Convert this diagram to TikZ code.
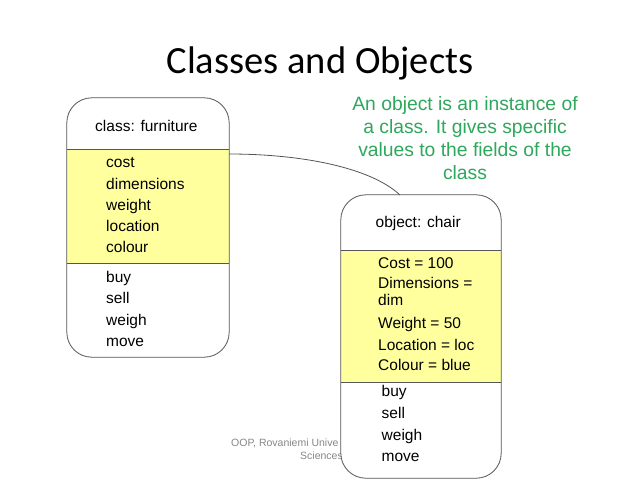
\documentclass[tikz,border=0pt]{standalone}
\usepackage{fontspec}
\setmainfont{Liberation Sans}
\newfontfamily\titlefont{Carlito}
\definecolor{boxline}{RGB}{85,85,85}
\definecolor{attrfill}{RGB}{255,255,158}
\definecolor{notegreen}{RGB}{46,168,92}
\definecolor{footgray}{RGB}{135,135,135}
\tikzset{
  boxshape/.style={rectangle, rounded corners=25pt, fill=white, inner sep=0pt},
  boxedge/.style={draw=boxline, line width=0.8pt},
  item/.style={anchor=base west, inner sep=0pt, font=\fontsize{15.5}{18}\selectfont},
  foottext/.style={inner sep=0pt, text=footgray, font=\fontsize{10.5}{12.3}\selectfont},
  link/.style={draw=boxline, line width=0.8pt},
}
\begin{document}
\begin{tikzpicture}[x=1pt,y=-1pt]
\useasboundingbox (0,0) rectangle (640,480);
\fill[white] (0,0) rectangle (640,480);

% title
\node[anchor=base, inner sep=0pt, font=\titlefont\fontsize{38.5}{44}\selectfont] (title) at (320,73) {Classes and Objects};

% note
\node[anchor=base, inner sep=0pt, align=center, text=notegreen,
      font=\fontsize{19.3}{23}\selectfont] (note) at (465,179)
  {An object is an instance of\\a class. It gives specific\\values to the fields of the\\class};

% footer (partly hidden by the object box)
\node[foottext, anchor=base west] (foot1) at (231,446.5) {OOP, Rovaniemi Unive};
\node[foottext, anchor=base east] (foot2) at (343,459) {Sciences};

% boxes (fills)
\node[boxshape, minimum width=162pt, minimum height=259pt] (cls) at (148,227.5) {};
\node[boxshape, minimum width=160pt, minimum height=283pt] (obj) at (421,336.5) {};

% attribute bands
\fill[attrfill] (67,149.5) rectangle (229,263);
\fill[attrfill] (341,250) rectangle (501,382);
\draw[boxedge] (67,149.5) -- (229,149.5) (67,263) -- (229,263);
\draw[boxedge] (341,250) -- (501,250) (341,382) -- (501,382);

% outlines
\draw[boxedge, rounded corners=25pt] (cls.north west) rectangle (cls.south east);
\draw[boxedge, rounded corners=25pt] (obj.north west) rectangle (obj.south east);

% class texts
\node[item] (clsname) at (95,131.7) {class: furniture};
\node[item] (a1) at (106,167) {cost};
\node[item] (a2) at (106,189) {dimensions};
\node[item] (a3) at (106,210.5) {weight};
\node[item] (a4) at (106,231.5) {location};
\node[item] (a5) at (106,252.5) {colour};
\node[item] (m1) at (106,282) {buy};
\node[item] (m2) at (106,303.5) {sell};
\node[item] (m3) at (106,325) {weigh};
\node[item] (m4) at (106,346) {move};

% object texts
\node[item] (objname) at (375.5,227.7) {object: chair};
\node[item] (b1) at (378,268.3) {Cost = 100};
\node[item] (b2) at (378,288.3) {Dimensions =};
\node[item] (b2b) at (378,305.5) {dim};
\node[item] (b3) at (378,328.3) {Weight = 50};
\node[item] (b4) at (378,350) {Location = loc};
\node[item] (b5) at (378,370.7) {Colour = blue};
\node[item] (n1) at (381.5,396.7) {buy};
\node[item] (n2) at (381.5,418.3) {sell};
\node[item] (n3) at (381.5,440) {weigh};
\node[item] (n4) at (381.5,461.7) {move};

% connector
\coordinate (c1) at (229,154);
\coordinate (c2) at (400,195);
\draw[link] (c1) .. controls (300,154) and (370,167) .. (c2);
\end{tikzpicture}
\end{document}
